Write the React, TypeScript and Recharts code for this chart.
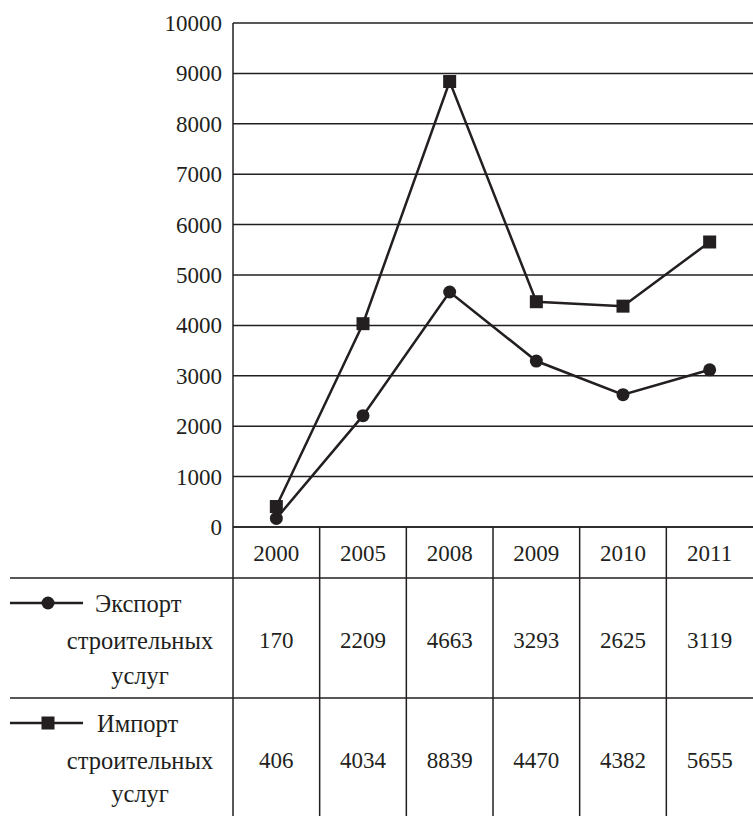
import React from 'react';
import { LineChart, Line, XAxis, YAxis, CartesianGrid } from 'recharts';

const years = ['2000', '2005', '2008', '2009', '2010', '2011'];
const exportValues = [170, 2209, 4663, 3293, 2625, 3119];
const importValues = [406, 4034, 8839, 4470, 4382, 5655];
const yTicks = [0, 1000, 2000, 3000, 4000, 5000, 6000, 7000, 8000, 9000, 10000];
const exportLabel = ['Экспорт', 'строительных', 'услуг'];
const importLabel = ['Импорт', 'строительных', 'услуг'];

const data = years.map((year, i) => ({ year, exp: exportValues[i], imp: importValues[i] }));

const INK = '#231f20';
const FONT = "'Liberation Serif'";
const FS_NUM = 23;
const FS_LBL = 24.5;
const W = 753;
const H = 816;

const txt = (x: number, y: number, s: string | number, anchor: string = 'middle', fs: number = FS_NUM) => (
  <text
    x={x}
    y={y}
    dy="0.35em"
    textAnchor={anchor as any}
    fill={INK}
    fontFamily={FONT}
    fontSize={fs}
  >
    {s}
  </text>
);

const TableTick = (props: any) => {
  const { x, y, payload, width, visibleTicksCount } = props;
  const i: number = payload.index ?? props.index ?? 0;
  const count = visibleTicksCount || years.length;
  const half = payload.offset && payload.offset > 0 ? payload.offset : width / count / 2;
  const left = x - half;
  const top = y;
  const row1 = top + 51;
  const row2 = top + 171;
  const entry = data[i];
  return (
    <g>
      <line x1={left} y1={top} x2={left} y2={H} stroke={INK} strokeWidth={1.5} />
      {txt(x, top + 26, payload.value)}
      {txt(x, row1 + 62, entry ? entry.exp : '')}
      {txt(x, row2 + 62, entry ? entry.imp : '')}
      {i === 0 && (
        <g>
          <line x1={10} y1={row1} x2={W} y2={row1} stroke={INK} strokeWidth={1.5} />
          <line x1={10} y1={row2} x2={W} y2={row2} stroke={INK} strokeWidth={1.5} />
          <line x1={10} y1={row1 + 25} x2={83} y2={row1 + 25} stroke={INK} strokeWidth={2.5} />
          <circle cx={48} cy={row1 + 25} r={6.5} fill={INK} />
          {txt(95, row1 + 25, exportLabel[0], 'start', FS_LBL)}
          {txt(140, row1 + 62, exportLabel[1], 'middle', FS_LBL)}
          {txt(140, row1 + 97, exportLabel[2], 'middle', FS_LBL)}
          <line x1={10} y1={row2 + 25} x2={83} y2={row2 + 25} stroke={INK} strokeWidth={2.5} />
          <rect x={48 - 6.5} y={row2 + 25 - 6.5} width={13} height={13} fill={INK} />
          {txt(97, row2 + 25, importLabel[0], 'start', FS_LBL)}
          {txt(140, row2 + 62, importLabel[1], 'middle', FS_LBL)}
          {txt(140, row2 + 95, importLabel[2], 'middle', FS_LBL)}
        </g>
      )}
    </g>
  );
};

const YTick = (props: any) => {
  const { x, y, payload } = props;
  return txt(x, y, payload.value, 'end');
};

const CircleDot = (props: any) => {
  const { cx, cy } = props;
  if (cx == null || cy == null) return null;
  return <circle cx={cx} cy={cy} r={6.5} fill={INK} />;
};

const SquareDot = (props: any) => {
  const { cx, cy } = props;
  if (cx == null || cy == null) return null;
  return <rect x={cx - 6.5} y={cy - 6.5} width={13} height={13} fill={INK} />;
};

export default function App() {
  return (
    <div style={{ position: 'absolute', left: 0, top: 0, background: '#fff' }}>
      <LineChart width={W} height={H} data={data} margin={{ top: 23, right: 0, left: 0, bottom: 0 }}>
        <CartesianGrid vertical={false} stroke={INK} strokeWidth={1.5} strokeOpacity={1} />
        <XAxis
          dataKey="year"
          scale="band"
          height={289}
          tickSize={0}
          tickMargin={0}
          interval={0}
          axisLine={{ stroke: INK, strokeWidth: 1.5 }}
          tickLine={false}
          tick={<TableTick />}
        />
        <YAxis
          type="number"
          domain={[0, 10000]}
          ticks={yTicks}
          interval={0}
          width={233}
          tickSize={0}
          tickMargin={11}
          tickLine={false}
          axisLine={{ stroke: INK, strokeWidth: 1.5 }}
          tick={<YTick />}
        />
        <Line
          type="linear"
          dataKey="exp"
          stroke={INK}
          strokeWidth={2.5}
          dot={<CircleDot />}
          activeDot={false}
          isAnimationActive={false}
        />
        <Line
          type="linear"
          dataKey="imp"
          stroke={INK}
          strokeWidth={2.5}
          dot={<SquareDot />}
          activeDot={false}
          isAnimationActive={false}
        />
      </LineChart>
    </div>
  );
}
